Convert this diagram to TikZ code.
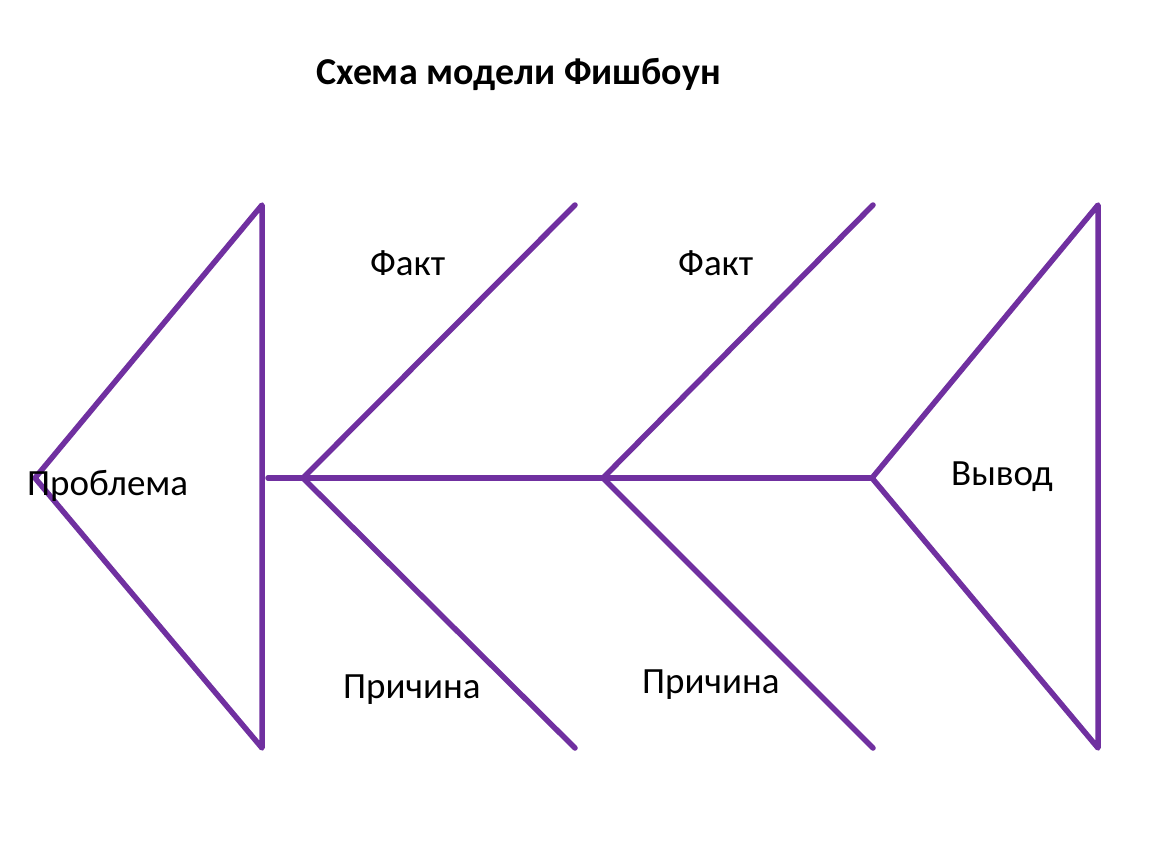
\documentclass[tikz,border=0pt]{standalone}
\usepackage{fontspec}
\setmainfont{Carlito}
\begin{document}
\begin{tikzpicture}[x=1pt,y=-1pt,
  bone/.style={draw=fishpurple,line width=5.5pt,line cap=round,line join=round},
  lbl/.style={font=\fontsize{37}{44}\selectfont,inner sep=0pt,anchor=base west},
  ttl/.style={font=\bfseries\fontsize{38}{46}\selectfont,inner sep=0pt,anchor=base west}]
\definecolor{fishpurple}{HTML}{7030A0}
\useasboundingbox (0,0) rectangle (1150,864);
% head
\coordinate (h1) at (262,205);
\coordinate (h2) at (35,478);
\coordinate (h3) at (262,748);
% spine
\coordinate (s0) at (268,478);
\coordinate (s1) at (303,478);
\coordinate (s2) at (603,478);
\coordinate (s3) at (872,478);
% bones
\coordinate (b1u) at (575,205);
\coordinate (b1d) at (575,748);
\coordinate (b2u) at (873,205);
\coordinate (b2d) at (873,748);
% tail
\coordinate (t1) at (1098,205);
\coordinate (t2) at (1098,748);
\draw[bone] (h1) -- (h2) -- (h3) -- cycle;
\draw[bone] (s0) -- (s3);
\draw[bone] (b1u) -- (s1) -- (b1d);
\draw[bone] (b2u) -- (s2) -- (b2d);
\draw[bone] (t1) -- (s3) -- (t2) -- cycle;
\node[ttl] (title) at (316,85) {Схема модели Фишбоун};
\node[lbl] (prob) at (27,495) {Проблема};
\node[lbl] (f1) at (370,275) {Факт};
\node[lbl] (f2) at (678,275) {Факт};
\node[lbl] (p1) at (343,698) {Причина};
\node[lbl] (p2) at (642,693) {Причина};
\node[lbl] (vyv) at (951,485) {Вывод};
\end{tikzpicture}
\end{document}
